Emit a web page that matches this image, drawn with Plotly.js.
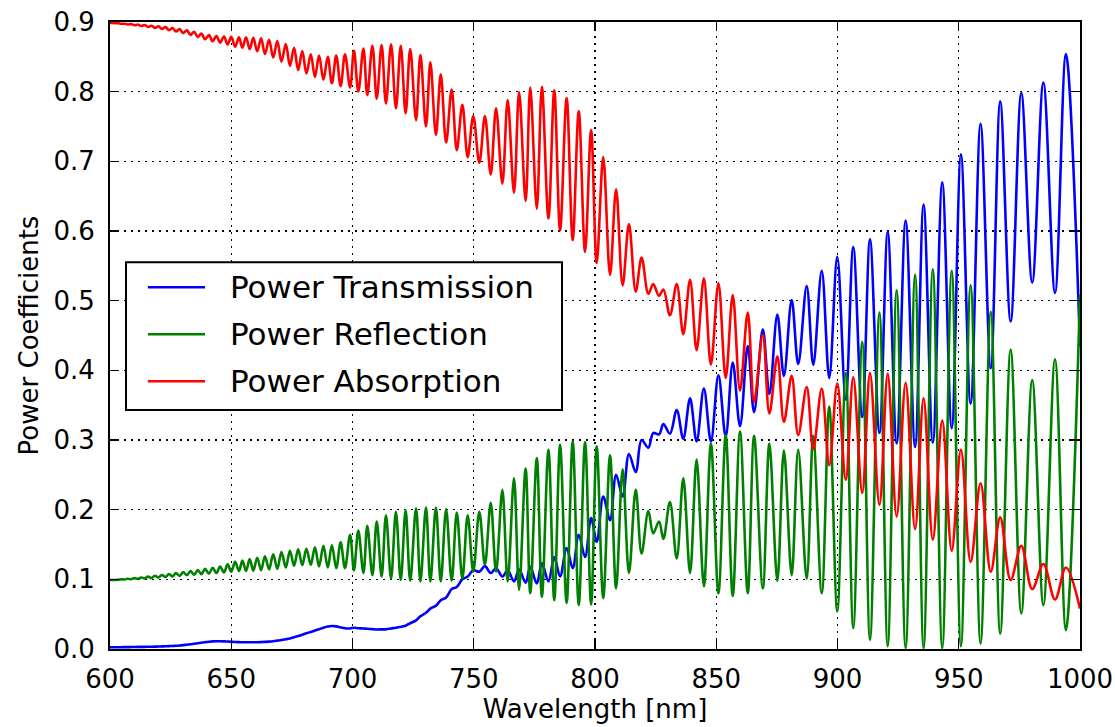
<!DOCTYPE html>
<html>
<head>
<meta charset="utf-8">
<script src="https://cdn.plot.ly/plotly-3.0.1.min.js"></script>
<style>
  html, body { margin: 0; padding: 0; background: #ffffff; }
  #chart { width: 1115px; height: 727px; }
</style>
</head>
<body>
<div id="chart"></div>
<script>
// Wavelength samples [nm] at the fringe extrema of the thin-film spectrum
const wavelength = [
  600.0, 603.3, 604.6, 606.0, 607.3, 608.7, 610.1, 611.5, 612.9, 614.3,
  615.7, 617.1, 618.5, 620.0, 621.4, 622.9, 624.3, 625.8, 627.2, 628.7,
  630.2, 631.7, 633.2, 634.7, 636.2, 637.7, 639.2, 640.8, 642.3, 643.9,
  645.4, 647.0, 648.5, 650.0, 651.6, 653.2, 654.6, 656.1, 657.6, 659.1,
  660.7, 662.3, 663.9, 665.6, 667.3, 669.0, 670.7, 672.5, 674.2, 675.9,
  677.6, 679.3, 681.0, 682.8, 684.5, 686.2, 688.0, 689.8, 691.5, 693.3,
  695.1, 696.9, 699.0, 700.6, 702.4, 704.5, 706.1, 708.2, 710.0, 712.0,
  713.8, 715.9, 717.9, 719.9, 721.9, 723.8, 726.2, 728.0, 730.3, 732.1,
  734.4, 736.4, 738.6, 740.9, 743.0, 745.3, 747.5, 749.8, 752.3, 754.6,
  757.0, 759.2, 761.8, 764.0, 766.6, 768.7, 771.4, 773.3, 776.0, 778.1,
  780.8, 783.2, 785.6, 788.3, 790.8, 793.3, 795.9, 798.4, 800.7, 803.4,
  806.2, 808.7, 811.4, 814.0, 816.8, 819.2, 822.0, 824.0, 826.4, 828.2,
  830.9, 833.7, 836.4, 839.2, 841.9, 844.9, 847.8, 850.9, 853.9, 856.8,
  859.8, 863.0, 865.6, 869.2, 871.9, 875.2, 877.9, 881.1, 883.8, 887.3,
  890.0, 893.5, 896.6, 899.9, 903.4, 906.5, 910.2, 913.4, 917.3, 920.7,
  924.4, 928.1, 932.0, 935.5, 939.3, 943.2, 947.1, 950.9, 954.9, 959.0,
  963.2, 967.1, 971.4, 975.8, 980.3, 984.9, 989.7, 994.2, 1000.0
];

const transmission = [
  0.0025, 0.0026, 0.0026, 0.0027, 0.0027, 0.0028, 0.0029, 0.0030, 0.0030, 0.0031,
  0.0032, 0.0033, 0.0034, 0.0035, 0.0037, 0.0039, 0.0041, 0.0044, 0.0047, 0.0051,
  0.0056, 0.0062, 0.0068, 0.0076, 0.0083, 0.0091, 0.0098, 0.0105, 0.0110, 0.0112,
  0.0112, 0.0110, 0.0107, 0.0104, 0.0100, 0.0098, 0.0097, 0.0096, 0.0096, 0.0096,
  0.0097, 0.0099, 0.0102, 0.0106, 0.0112, 0.0120, 0.0128, 0.0140, 0.0152, 0.0168,
  0.0185, 0.0205, 0.0225, 0.0245, 0.0265, 0.0285, 0.0305, 0.0322, 0.0330, 0.0325,
  0.0310, 0.0298, 0.0295, 0.0305, 0.0298, 0.0295, 0.0290, 0.0285, 0.0280, 0.0282,
  0.0282, 0.0295, 0.0305, 0.0320, 0.0335, 0.0370, 0.0410, 0.0470, 0.0520, 0.0580,
  0.0620, 0.0700, 0.0740, 0.0860, 0.0890, 0.1000, 0.1040, 0.1130, 0.1110, 0.1190,
  0.1090, 0.1160, 0.1040, 0.1130, 0.0970, 0.1140, 0.0950, 0.1180, 0.0940, 0.1230,
  0.0970, 0.1320, 0.1040, 0.1450, 0.1160, 0.1640, 0.1320, 0.1880, 0.1540, 0.2190,
  0.1850, 0.2500, 0.2190, 0.2800, 0.2540, 0.3000, 0.2890, 0.3100, 0.3080, 0.3230,
  0.3090, 0.3430, 0.3020, 0.3600, 0.2980, 0.3740, 0.2980, 0.3930, 0.3050, 0.4110,
  0.3200, 0.4350, 0.3400, 0.4590, 0.3660, 0.4800, 0.3920, 0.5010, 0.4090, 0.5210,
  0.4080, 0.5430, 0.3890, 0.5630, 0.3580, 0.5770, 0.3330, 0.5880, 0.3100, 0.5990,
  0.2950, 0.6150, 0.2900, 0.6380, 0.2960, 0.6700, 0.3170, 0.7100, 0.3520, 0.7540,
  0.4030, 0.7860, 0.4700, 0.7980, 0.5260, 0.8130, 0.5110, 0.8540, 0.4340
];

const reflection = [
  0.0990, 0.0993, 0.1000, 0.0998, 0.1008, 0.1002, 0.1017, 0.1007, 0.1027, 0.1013,
  0.1039, 0.1020, 0.1051, 0.1027, 0.1063, 0.1035, 0.1076, 0.1043, 0.1089, 0.1050,
  0.1103, 0.1058, 0.1118, 0.1066, 0.1134, 0.1074, 0.1150, 0.1082, 0.1167, 0.1090,
  0.1185, 0.1098, 0.1215, 0.1110, 0.1250, 0.1120, 0.1270, 0.1120, 0.1290, 0.1125,
  0.1310, 0.1132, 0.1330, 0.1143, 0.1360, 0.1150, 0.1390, 0.1170, 0.1410, 0.1195,
  0.1430, 0.1205, 0.1440, 0.1210, 0.1460, 0.1185, 0.1480, 0.1170, 0.1490, 0.1160,
  0.1530, 0.1160, 0.1640, 0.1130, 0.1700, 0.1090, 0.1770, 0.1060, 0.1830, 0.1040,
  0.1920, 0.1010, 0.1970, 0.0990, 0.1990, 0.0980, 0.2020, 0.0970, 0.2030, 0.0970,
  0.2030, 0.0970, 0.2005, 0.0980, 0.1960, 0.1010, 0.1920, 0.1110, 0.1970, 0.1210,
  0.2100, 0.1110, 0.2280, 0.0970, 0.2450, 0.0850, 0.2590, 0.0800, 0.2740, 0.0750,
  0.2860, 0.0700, 0.2930, 0.0660, 0.2980, 0.0630, 0.2970, 0.0640, 0.2910, 0.0730,
  0.2780, 0.0870, 0.2580, 0.1090, 0.2290, 0.1370, 0.1980, 0.1660, 0.1830, 0.1580,
  0.2110, 0.1300, 0.2450, 0.1090, 0.2720, 0.0900, 0.2950, 0.0800, 0.3070, 0.0760,
  0.3120, 0.0800, 0.3060, 0.0870, 0.2950, 0.0980, 0.2850, 0.1060, 0.2860, 0.1010,
  0.3060, 0.0800, 0.3480, 0.0540, 0.3960, 0.0300, 0.4410, 0.0130, 0.4830, 0.0040,
  0.5150, 0.0010, 0.5370, 0.0010, 0.5450, 0.0010, 0.5430, 0.0040, 0.5220, 0.0080,
  0.4840, 0.0220, 0.4300, 0.0510, 0.3860, 0.0630, 0.4160, 0.0270, 0.5080
];

const absorption = [
  0.8985, 0.8981, 0.8974, 0.8975, 0.8965, 0.8970, 0.8954, 0.8963, 0.8943, 0.8956,
  0.8929, 0.8947, 0.8915, 0.8938, 0.8900, 0.8926, 0.8883, 0.8913, 0.8864, 0.8899,
  0.8841, 0.8880, 0.8814, 0.8858, 0.8783, 0.8835, 0.8752, 0.8813, 0.8723, 0.8798,
  0.8703, 0.8792, 0.8678, 0.8786, 0.8646, 0.8780, 0.8630, 0.8780, 0.8610, 0.8775,
  0.8580, 0.8765, 0.8540, 0.8746, 0.8490, 0.8727, 0.8430, 0.8684, 0.8370, 0.8630,
  0.8310, 0.8583, 0.8260, 0.8536, 0.8210, 0.8517, 0.8170, 0.8500, 0.8120, 0.8517,
  0.8080, 0.8536, 0.8060, 0.8590, 0.8000, 0.8620, 0.7950, 0.8660, 0.7900, 0.8670,
  0.7830, 0.8680, 0.7760, 0.8660, 0.7690, 0.8610, 0.7590, 0.8530, 0.7500, 0.8420,
  0.7380, 0.8250, 0.7270, 0.8030, 0.7160, 0.7810, 0.7060, 0.7650, 0.6980, 0.7650,
  0.6810, 0.7760, 0.6680, 0.7880, 0.6550, 0.7990, 0.6430, 0.8060, 0.6320, 0.8070,
  0.6180, 0.8020, 0.6010, 0.7910, 0.5870, 0.7720, 0.5700, 0.7450, 0.5540, 0.7060,
  0.5370, 0.6600, 0.5220, 0.6100, 0.5130, 0.5620, 0.5100, 0.5240, 0.5070, 0.5160,
  0.4790, 0.5240, 0.4520, 0.5300, 0.4290, 0.5320, 0.4080, 0.5250, 0.3890, 0.5080,
  0.3710, 0.4830, 0.3550, 0.4510, 0.3380, 0.4200, 0.3260, 0.3920, 0.3070, 0.3760,
  0.2870, 0.3740, 0.2640, 0.3810, 0.2430, 0.3900, 0.2240, 0.3960, 0.2070, 0.3950,
  0.1900, 0.3820, 0.1720, 0.3600, 0.1570, 0.3280, 0.1410, 0.2860, 0.1250, 0.2380,
  0.1110, 0.1890, 0.0990, 0.1480, 0.0860, 0.1220, 0.0710, 0.1170, 0.0580
];

const seriesNames = ['Power Transmission', 'Power Reflection', 'Power Absorption'];
const seriesColors = ['#0000ff', '#008000', '#ff0000'];
const xTicks = [600, 650, 700, 750, 800, 850, 900, 950, 1000];
const yTicks = [0.0, 0.1, 0.2, 0.3, 0.4, 0.5, 0.6, 0.7, 0.8, 0.9];

const font = 'DejaVu Sans, Liberation Sans, sans-serif';
const LABEL_SIZE = 26;
const LEGEND_SIZE = 31;
const LINE_WIDTH = 2.6;

const traces = [transmission, reflection, absorption].map((vals, i) => ({
  type: 'scatter',
  mode: 'lines',
  x: wavelength,
  y: vals,
  name: seriesNames[i],
  line: { color: seriesColors[i], width: LINE_WIDTH, shape: 'spline', smoothing: 1 },
  hoverinfo: 'x+y',
  showlegend: false
}));

const axisCommon = {
  showline: true,
  linecolor: '#000000',
  linewidth: 2,
  mirror: 'allticks',
  ticks: 'inside',
  ticklen: 9,
  tickwidth: 1.2,
  tickcolor: '#000000',
  showgrid: true,
  gridcolor: '#000000',
  gridwidth: 1.2,
  griddash: '2px,5px',
  zeroline: false,
  tickfont: { family: font, size: LABEL_SIZE, color: '#000000' }
};

// Legend box drawn in paper coordinates (upper-left inside the axes)
const legendBox = { x0: 0.0165, x1: 0.466, y0: 0.381, y1: 0.617 };
const legendRows = [0.577, 0.502, 0.427];
const legendLine = { x0: 0.039, x1: 0.098 };
const legendTextX = 0.1215;

const shapes = [{
  type: 'rect', xref: 'paper', yref: 'paper',
  x0: legendBox.x0, x1: legendBox.x1, y0: legendBox.y0, y1: legendBox.y1,
  line: { color: '#000000', width: 2 }, fillcolor: '#ffffff', layer: 'above'
}].concat(seriesNames.map((n, i) => ({
  type: 'line', xref: 'paper', yref: 'paper',
  x0: legendLine.x0, x1: legendLine.x1, y0: legendRows[i], y1: legendRows[i],
  line: { color: seriesColors[i], width: LINE_WIDTH }, layer: 'above'
})));

const annotations = seriesNames.map((n, i) => ({
  xref: 'paper', yref: 'paper', x: legendTextX, y: legendRows[i],
  xanchor: 'left', yanchor: 'middle', showarrow: false, text: n,
  font: { family: font, size: LEGEND_SIZE, color: '#000000' }
}));

const layout = {
  width: 1115,
  height: 727,
  margin: { l: 110, r: 35, t: 22, b: 78 },
  paper_bgcolor: '#ffffff',
  plot_bgcolor: '#ffffff',
  showlegend: false,
  xaxis: Object.assign({}, axisCommon, {
    range: [600, 1000],
    tickvals: xTicks,
    ticktext: xTicks.map(String),
    ticklabelstandoff: 6,
    title: { text: 'Wavelength [nm]', font: { family: font, size: LABEL_SIZE, color: '#000000' }, standoff: 5 }
  }),
  yaxis: Object.assign({}, axisCommon, {
    range: [0, 0.9],
    tickvals: yTicks,
    ticktext: yTicks.map(v => v.toFixed(1)),
    ticklabelstandoff: 8,
    title: { text: 'Power Coefficients', font: { family: font, size: LABEL_SIZE, color: '#000000' }, standoff: 7 }
  }),
  shapes: shapes,
  annotations: annotations
};

Plotly.newPlot('chart', traces, layout, { displayModeBar: false, staticPlot: true });
</script>
</body>
</html>
